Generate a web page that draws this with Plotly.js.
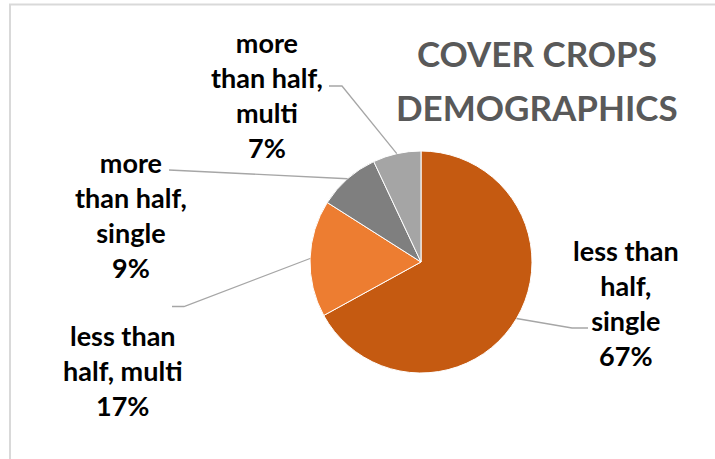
<!DOCTYPE html>
<html>
<head>
<meta charset="utf-8">
<script src="https://cdn.plot.ly/plotly-3.0.1.min.js"></script>
<style>html,body{margin:0;padding:0;background:#fff;}#chart{width:715px;height:459px;}</style>
</head>
<body>
<div id="chart"></div>
<script>
// Data
var categories = ["less than half, single", "less than half, multi", "more than half, single", "more than half, multi"];
var labelTexts = ["less than<br>half,<br>single", "less than<br>half, multi", "more<br>than half,<br>single", "more<br>than half,<br>multi"];
var values = [67, 17, 9, 7];
var colors = ["#C55A11", "#ED7D31", "#7F7F7F", "#A5A5A5"];
var titleLines = ["COVER CROPS", "DEMOGRAPHICS"];

// Layout (pixel geometry)
var W = 715, H = 459;
var cx = 421, cy = 262, R = 111;
var labelPos = [ [626, 303], [122.5, 370], [131, 215], [266.5, 95.5] ];
// leader line label-side points: [elbow, end]
var leaderPts = [
  [[572, 328], [588, 328]],
  [[184, 306.5], [172, 306.5]],
  [[169, 170], [169, 170]],
  [[342, 86], [329, 86]]
];

function px(x){ return x / W; }
function py(y){ return 1 - y / H; }

var total = values.reduce(function(a,b){return a+b;}, 0);
var shapes = [
  {type:'line', xref:'paper', yref:'paper', x0:px(9), y0:py(4.5), x1:px(715), y1:py(4.5), line:{color:'#D9D9D9', width:2}},
  {type:'line', xref:'paper', yref:'paper', x0:px(10), y0:py(4), x1:px(10), y1:py(459), line:{color:'#D9D9D9', width:2}}
];
var annotations = [];
var cum = 0;
for (var i = 0; i < values.length; i++) {
  var mid = (cum + values[i] / 2) / total;
  cum += values[i];
  var ang = mid * 2 * Math.PI;
  var ax = cx + R * Math.sin(ang), ay = cy - R * Math.cos(ang);
  var p1 = leaderPts[i][0], p2 = leaderPts[i][1];
  shapes.push({type:'path', xref:'paper', yref:'paper',
    path: 'M' + px(ax) + ',' + py(ay) + ' L' + px(p1[0]) + ',' + py(p1[1]) + ' L' + px(p2[0]) + ',' + py(p2[1]),
    line:{color:'#A6A6A6', width:1.3}});
  var pct = Math.round(values[i] / total * 100) + '%';
  annotations.push({xref:'paper', yref:'paper', x:px(labelPos[i][0]), y:py(labelPos[i][1]),
    xanchor:'center', yanchor:'middle', align:'center', showarrow:false,
    text: labelTexts[i] + '<br>' + pct,
    font:{family:'Lato, sans-serif', size:27, color:'#000000', weight:'bold'}});
}
annotations.push({xref:'paper', yref:'paper', x:px(537), y:py(53), xanchor:'center', yanchor:'middle', showarrow:false,
  text:titleLines[0], font:{family:'Lato, sans-serif', size:35, color:'#595959', weight:'bold'}});
annotations.push({xref:'paper', yref:'paper', x:px(537), y:py(107), xanchor:'center', yanchor:'middle', showarrow:false,
  text:titleLines[1], font:{family:'Lato, sans-serif', size:35, color:'#595959', weight:'bold'}});

var trace = {
  type:'pie', labels:categories, values:values, sort:false, direction:'clockwise', rotation:0,
  marker:{colors:colors, line:{color:'#FFFFFF', width:1}},
  textinfo:'none', hoverinfo:'label+percent', showlegend:false,
  domain:{x:[px(cx - R), px(cx + R)], y:[py(cy + R), py(cy - R)]}
};

var layout = {
  width:W, height:H, margin:{l:0, r:0, t:0, b:0},
  paper_bgcolor:'#FFFFFF', plot_bgcolor:'#FFFFFF',
  showlegend:false, shapes:shapes, annotations:annotations
};
Plotly.newPlot('chart', [trace], layout, {displayModeBar:false, staticPlot:true});
</script>
</body>
</html>
